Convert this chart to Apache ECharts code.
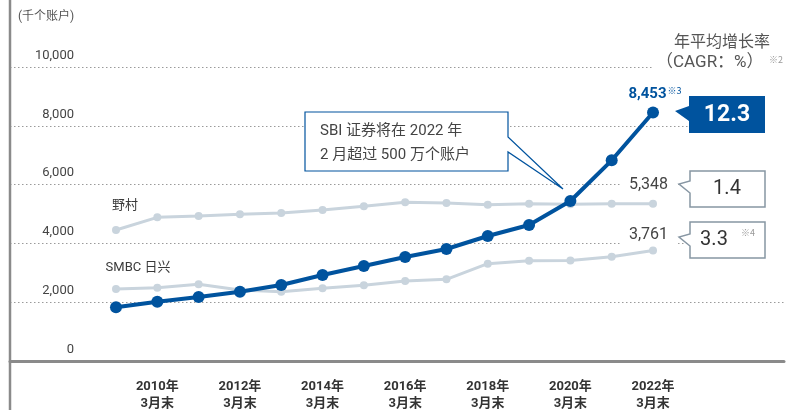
<!DOCTYPE html>
<html>
<head>
<meta charset="utf-8">
<script src="https://cdn.jsdelivr.net/npm/echarts@6/dist/echarts.min.js"></script>
<style>
  html, body { margin: 0; padding: 0; background: #fff; }
  #chart { width: 787px; height: 410px; }
</style>
</head>
<body>
<div id="chart"></div>
<script>
// 年份（各年 3 月末）
const years = [2009, 2010, 2011, 2012, 2013, 2014, 2015, 2016, 2017, 2018, 2019, 2020, 2021, 2022];
// 横轴显示的年份
const tickYears = [2010, 2012, 2014, 2016, 2018, 2020, 2022];
// 账户数（千个）
const sbiData = [1826, 2017, 2177, 2357, 2585, 2925, 3231, 3537, 3809, 4251, 4625, 5442, 6826, 8453];
const nomuraData = [4455, 4887, 4931, 4989, 5033, 5135, 5261, 5397, 5374, 5316, 5350, 5330, 5350, 5348];
const smbcData = [2449, 2493, 2609, 2415, 2357, 2473, 2575, 2721, 2779, 3309, 3411, 3418, 3547, 3761];
// 年平均增长率 (CAGR：%)
const cagrSbi = '12.3';
const cagrNomura = '1.4';
const cagrSmbc = '3.3';

const FONT = 'Roboto, "Noto Sans CJK SC", sans-serif';
const BLUE = '#00539e';
const GREY = '#c9d4dd';
const TEXT = '#3a3a3a';
const BOX_LINE = '#8796a3';

const fmt = (v) => Number(v).toLocaleString('en-US');

// 首尾数据点加标签
const buildData = (values, startLabel, endLabel) =>
  years.map((y, i) => {
    const item = { value: [y, values[i]] };
    if (i === 0 && startLabel) item.label = startLabel;
    if (i === values.length - 1 && endLabel) item.label = endLabel;
    return item;
  });

const chart = echarts.init(document.getElementById('chart'));

const option = {
  animation: false,
  textStyle: { fontFamily: FONT },
  grid: { left: 10, right: 3, top: 67, bottom: 49, outerBoundsMode: 'none' },
  xAxis: {
    type: 'value',
    min: 2006.434,
    max: 2025.171,
    axisLine: { show: true, onZero: true, lineStyle: { color: '#8a8a8a', width: 3 } },
    axisTick: { show: false },
    splitLine: { show: false },
    axisLabel: {
      customValues: tickYears,
      margin: 17,
      color: '#333',
      fontSize: 13,
      fontWeight: 'bold',
      lineHeight: 17,
      fontFamily: FONT,
      formatter: (v) => `${v}年\n3月末`,
    },
  },
  yAxis: {
    type: 'value',
    min: 0,
    max: 10000,
    interval: 2000,
    name: '(千个账户)',
    nameLocation: 'end',
    nameGap: 44,
    nameTextStyle: { color: '#555', fontSize: 12, align: 'left', padding: [0, 0, 0, 8], fontFamily: FONT },
    axisLine: { show: false },
    axisTick: { show: false },
    axisLabel: {
      inside: true,
      margin: 64,
      align: 'right',
      verticalAlign: 'bottom',
      padding: [0, 0, 5, 0],
      color: '#444',
      fontSize: 13,
      fontFamily: FONT,
      formatter: fmt,
    },
    splitLine: { lineStyle: { color: '#9a9a9a', width: 1, type: [1.5, 2.5] } },
  },
  series: [
    {
      name: '野村',
      type: 'line',
      data: buildData(
        nomuraData,
        { show: true, position: 'top', distance: 14, offset: [9, 0], formatter: '野村', color: TEXT, fontSize: 13 },
        {
          show: true, position: 'top', distance: 6, offset: [-4, 0], formatter: (p) => fmt(p.value[1]),
          color: '#444', fontSize: 16, backgroundColor: '#fff', padding: [1, 10, 1, 9],
        }
      ),
      symbol: 'circle',
      symbolSize: 8,
      lineStyle: { color: GREY, width: 3 },
      itemStyle: { color: GREY },
      z: 2,
    },
    {
      name: 'SMBC 日兴',
      type: 'line',
      data: buildData(
        smbcData,
        { show: true, position: 'top', distance: 11, offset: [22, 0], formatter: 'SMBC 日兴', color: TEXT, fontSize: 13 },
        {
          show: true, position: 'top', distance: 2, offset: [-4, 0], formatter: (p) => fmt(p.value[1]),
          color: '#444', fontSize: 16, backgroundColor: '#fff', padding: [1, 10, 1, 9],
        }
      ),
      symbol: 'circle',
      symbolSize: 8,
      lineStyle: { color: GREY, width: 3 },
      itemStyle: { color: GREY },
      z: 2,
    },
    {
      name: 'SBI',
      type: 'line',
      data: buildData(sbiData, null, {
        show: true, position: 'top', distance: 5, offset: [2, 0],
        formatter: (p) => `{a|${fmt(p.value[1])}}{b|※3}`,
        rich: {
          a: { color: BLUE, fontSize: 15, fontWeight: 'bold', fontFamily: FONT },
          b: { color: BLUE, fontSize: 9, verticalAlign: 'top', padding: [0, 0, 6, 1], fontFamily: '"Noto Sans CJK SC"' },
        },
      }),
      symbol: 'circle',
      symbolSize: 12,
      lineStyle: { color: BLUE, width: 4 },
      itemStyle: { color: BLUE },
      z: 3,
    },
  ],
  graphic: [
    // 左侧竖线
    { type: 'line', shape: { x1: 10, y1: 0, x2: 10, y2: 410 }, style: { stroke: '#8a8a8a', lineWidth: 2.5 }, z: 10 },
    // 右侧遮挡
    { type: 'rect', shape: { x: 766, y: 90, width: 21, height: 175 }, style: { fill: '#fff' }, z: 5 },
    // 标题
    { type: 'text', x: 722, y: 43, style: { text: '年平均增长率', font: `16px ${FONT}`, fill: '#555', align: 'center', verticalAlign: 'middle' }, z: 10 },
    {
      type: 'text', x: 654, y: 63, z: 10,
      style: { text: '（CAGR：%）', font: `17px ${FONT}`, fill: '#555', align: 'left', verticalAlign: 'middle', backgroundColor: '#fff', padding: [0, 30, 0, 2] },
    },
    { type: 'text', x: 769, y: 60, style: { text: '※2', font: `9px "Noto Sans CJK SC"`, fill: '#999', verticalAlign: 'middle' }, z: 11 },
    // SBI 说明框
    {
      type: 'polygon', z: 10,
      shape: { points: [[305, 112], [508, 112], [508, 137], [563, 189], [508, 152], [508, 171], [305, 171]] },
      style: { fill: '#fff', stroke: BLUE, lineWidth: 1.2 },
    },
    {
      type: 'text', x: 320, y: 143, z: 11,
      style: { text: 'SBI 证券将在 2022 年\n2 月超过 500 万个账户', font: `15px ${FONT}`, fill: '#444', lineHeight: 24, verticalAlign: 'middle' },
    },
    // CAGR 框
    {
      type: 'polygon', z: 10,
      shape: { points: [[689, 96], [765, 96], [765, 133], [689, 133], [689, 121], [675, 111], [689, 106]] },
      style: { fill: BLUE },
    },
    { type: 'text', x: 727, y: 115, z: 11, style: { text: cagrSbi, font: `bold 23px ${FONT}`, fill: '#fff', align: 'center', verticalAlign: 'middle' } },
    {
      type: 'polygon', z: 10,
      shape: { points: [[690, 171], [765, 171], [765, 207], [690, 207], [690, 193], [679, 184], [690, 181]] },
      style: { fill: '#fff', stroke: BOX_LINE, lineWidth: 1.5 },
    },
    { type: 'text', x: 727, y: 189, z: 11, style: { text: cagrNomura, font: `20px ${FONT}`, fill: '#333', align: 'center', verticalAlign: 'middle' } },
    {
      type: 'polygon', z: 10,
      shape: { points: [[690, 222], [765, 222], [765, 258], [690, 258], [690, 246], [679, 237], [690, 234]] },
      style: { fill: '#fff', stroke: BOX_LINE, lineWidth: 1.5 },
    },
    { type: 'text', x: 714, y: 240, z: 11, style: { text: cagrSmbc, font: `20px ${FONT}`, fill: '#333', align: 'center', verticalAlign: 'middle' } },
    { type: 'text', x: 741, y: 233, z: 11, style: { text: '※4', font: `9px "Noto Sans CJK SC"`, fill: '#999', verticalAlign: 'middle' } },
  ],
};

chart.setOption(option);
</script>
</body>
</html>
